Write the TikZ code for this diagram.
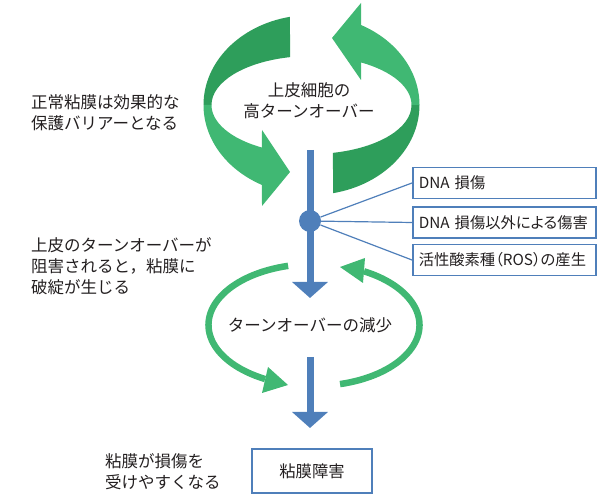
\documentclass[tikz,border=0pt]{standalone}
\usepackage{fontspec}
\setmainfont{Noto Sans CJK JP}
\newfontfamily\paltfont{Noto Sans CJK JP}[RawFeature={+palt}]
\usetikzlibrary{arrows.meta,calc}
\definecolor{gdark}{HTML}{2E9E5B}
\definecolor{glight}{HTML}{40B873}
\definecolor{bblue}{HTML}{4F7FBA}
\definecolor{txt}{HTML}{231F20}
\begin{document}
\begin{tikzpicture}[x=1pt,y=1pt,
  lbl/.style={text=txt,font=\fontsize{16.5}{21}\selectfont,inner sep=0pt},
  infobox/.style={draw=bblue,line width=1.5pt,text=txt,font=\paltfont\fontsize{15.3}{18}\selectfont,
    inner sep=0pt,minimum width=183pt,minimum height=31pt,text width=171pt,align=left,anchor=west},
  resultbox/.style={draw=bblue,line width=1.5pt,text=txt,font=\fontsize{16.3}{21}\selectfont,
    inner sep=0pt,minimum width=120pt,minimum height=44pt},
  blarrow/.style={draw=bblue,line width=7pt,-{Triangle[width=35pt,length=16pt]}},
  garc/.style={draw=glight,line width=6.5pt},
  thinlink/.style={draw=bblue,line width=1.2pt},
  dotnode/.style={circle,fill=bblue,inner sep=0pt,minimum size=22pt}
]
\useasboundingbox (0,0) rectangle (610,497);
% ---- top ribbon arrows ----
\coordinate (C) at (311.5,392);
\fill[gdark] ($(C)+(101.5:108 and 90)$) arc[start angle=101.5,end angle=180,x radius=108,y radius=90]
  -- ($(C)+(180:100 and 49)$) arc[start angle=180,end angle=102.4,x radius=100,y radius=49] -- cycle;
\fill[glight] ($(C)+(180:108 and 90)$) arc[start angle=180,end angle=242.7,x radius=108,y radius=90]
  -- (262,291) -- (290,325) -- (262,367)
  -- ($(C)+(240.3:100 and 49)$) arc[start angle=240.3,end angle=180,x radius=100,y radius=49] -- cycle;
\fill[gdark] ($(C)+(281.5:108 and 90)$) arc[start angle=281.5,end angle=360,x radius=108,y radius=90]
  -- ($(C)+(0:100 and 49)$) arc[start angle=360,end angle=282.4,x radius=100,y radius=49] -- cycle;
\fill[glight] ($(C)+(0:108 and 90)$) arc[start angle=0,end angle=62.7,x radius=108,y radius=90]
  -- (361,494) -- (332,459) -- (361,417)
  -- ($(C)+(60.3:100 and 49)$) arc[start angle=60.3,end angle=0,x radius=100,y radius=49] -- cycle;
% ---- middle cycle arrows ----
\coordinate (C2) at (314,172);
\draw[garc] ($(C2)+(104.2:105.5 and 61)$) arc[start angle=104.2,end angle=242.4,x radius=105.5,y radius=61];
\fill[glight] (268,130) -- (288,112) -- (262,104) -- cycle;
\draw[garc] ($(C2)+(-75.7:105.5 and 61)$) arc[start angle=-75.7,end angle=61.7,x radius=105.5,y radius=61];
\fill[glight] (365,239) -- (340,230) -- (363,214) -- cycle;
% ---- texts ----
\node[lbl,align=center] (t1) at (309,396) {上皮細胞の\\高ターンオーバー};
\node[lbl,align=left,anchor=west] (t2) at (31,384) {正常粘膜は効果的な\\保護バリアーとなる};
\node[lbl,align=left,anchor=west] (t3) at (31,231) {上皮のターンオーバーが\\阻害されると，粘膜に\\破綻が生じる};
\node[lbl] (t4) at (310,172) {ターンオーバーの減少};
\node[lbl,align=left,anchor=west] (t5) at (105,25) {粘膜が損傷を\\受けやすくなる};
% ---- boxes ----
\node[infobox] (b1) at (412,314) {DNA 損傷};
\node[infobox] (b2) at (412,274.5) {DNA 損傷以外による傷害};
\node[infobox] (b3) at (412,237) {活性酸素種（ROS）の産生};
\node[resultbox] (bx) at (312,26) {粘膜障害};
% ---- blue arrows ----
\coordinate (a1s) at (310,347);
\coordinate (a1e) at (310,199);
\coordinate (a2s) at (310,140);
\coordinate (a2e) at (310,69);
\draw[blarrow] (a1s) -- (a1e);
\draw[blarrow] (a2s) -- (a2e);
\node[dotnode] (dot) at (310,276) {};
\draw[thinlink] (dot) -- (b1.west);
\draw[thinlink] (dot) -- (b2.west);
\draw[thinlink] (dot) -- (b3.west);
\end{tikzpicture}
\end{document}
